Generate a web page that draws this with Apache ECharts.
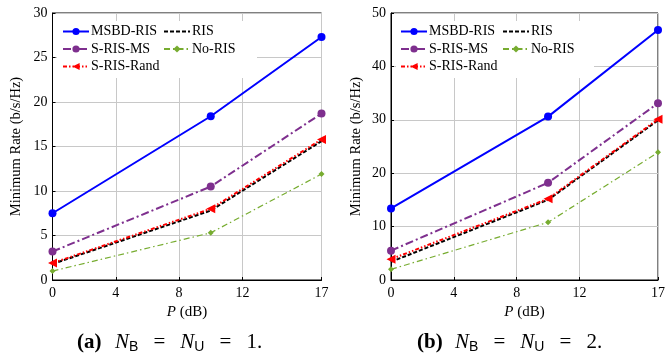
<!DOCTYPE html>
<html><head><meta charset="utf-8">
<script src="https://cdn.jsdelivr.net/npm/echarts@6/dist/echarts.min.js"></script>
<style>html,body{margin:0;padding:0;background:#fff}#c{width:668px;height:362px}</style>
</head><body><div id="c"></div>
<script>
const P = [0, 10, 17];
const xTicks = [0, 4, 8, 12, 17];
const seriesNames = ['MSBD-RIS', 'RIS', 'S-RIS-MS', 'No-RIS', 'S-RIS-Rand'];
// (a) N_B = N_U = 1
const a_MSBD = [7.5, 18.4, 27.3];
const a_RIS = [1.8, 7.8, 15.6];
const a_SRISMS = [3.2, 10.5, 18.7];
const a_NoRIS = [1.0, 5.3, 11.9];
const a_Rand = [1.9, 8.0, 15.8];
// (b) N_B = N_U = 2
const b_MSBD = [13.4, 30.6, 46.8];
const b_RIS = [3.4, 15.0, 29.9];
const b_SRISMS = [5.5, 18.2, 33.1];
const b_NoRIS = [2.0, 10.8, 23.9];
const b_Rand = [3.9, 15.2, 30.1];
const yMaxA = 30, yIntA = 5, yMaxB = 50, yIntB = 10;

const styles = {
  'MSBD-RIS': {color:'#0000ff', width:2, type:'solid', symbol:'circle', size:8},
  'RIS': {color:'#000000', width:2, type:[4,2], symbol:'circle', size:0.1},
  'S-RIS-MS': {color:'#7e2f8e', width:2, type:[8,3,2,3], symbol:'circle', size:8},
  'No-RIS': {color:'#77ac30', width:1.2, type:[6,3,1.5,3], symbol:'diamond', size:6},
  'S-RIS-Rand': {color:'#ff0000', width:2, type:[4,2,1.5,2,1.5,2], symbol:'triangle', size:9}
};
const dataA = {'MSBD-RIS':a_MSBD,'RIS':a_RIS,'S-RIS-MS':a_SRISMS,'No-RIS':a_NoRIS,'S-RIS-Rand':a_Rand};
const dataB = {'MSBD-RIS':b_MSBD,'RIS':b_RIS,'S-RIS-MS':b_SRISMS,'No-RIS':b_NoRIS,'S-RIS-Rand':b_Rand};

function mk(name, vals, idx){
  const s = styles[name];
  return {
    type:'line', name:name, xAxisIndex:idx, yAxisIndex:idx,
    data: P.map((p,i)=>[p, vals[i]]),
    symbol: s.symbol, symbolSize: s.size, symbolRotate: name==='S-RIS-Rand'?90:0,
    showSymbol: true,
    lineStyle:{color:s.color, width:s.width, type:s.type},
    itemStyle:{color:s.color, opacity: name==='RIS'?0:1},
    animation:false, silent:true, z: 3
  };
}
const serif = 'Liberation Serif';
function xAx(idx){
  return {gridIndex:idx, type:'value', min:0, max:17,
    axisLine:{show:true, onZero:false, lineStyle:{color:'#000', width:1}},
    axisTick:{show:true, inside:true, length:3, customValues:xTicks, lineStyle:{color:'#000'}},
    axisLabel:{customValues:xTicks, fontFamily:serif, fontSize:14, color:'#000', margin:6},
    splitLine:{show:true, lineStyle:{color:'#c8c8c8', width:1}},
    name:'{i|P} (dB)', nameLocation:'middle', nameGap:25,
    nameTextStyle:{fontFamily:serif, fontSize:15, color:'#000', rich:{i:{fontFamily:serif, fontStyle:'italic', fontSize:15, color:'#000'}}}
  };
}
function yAx(idx, max, interval){
  return {gridIndex:idx, type:'value', min:0, max:max, interval:interval,
    axisLine:{show:true, lineStyle:{color:'#000', width:1}},
    axisTick:{show:true, inside:true, length:3, lineStyle:{color:'#000'}},
    axisLabel:{fontFamily:serif, fontSize:14, color:'#000', margin:5},
    splitLine:{show:true, lineStyle:{color:'#c8c8c8', width:1}},
    name:'Minimum Rate (b/s/Hz)', nameLocation:'middle', nameGap:idx===0?28.5:27,
    nameTextStyle:{fontFamily:serif, fontSize:14.5, color:'#000'}
  };
}
function legend(left, top, names){
  return {show:true, orient:'vertical', left:left, top:top,
    data:names.map(n=>n==='RIS'?{name:n, itemStyle:{opacity:0}}:n),
    itemWidth:26, itemHeight:9,
    itemGap:3.5, padding:0, selectedMode:false,
    textStyle:{fontFamily:serif, fontSize:14, color:'#000', padding:[0,0,0,-3]}};
}
function capRich(){
  return {
    b:{fontFamily:serif, fontWeight:'bold', fontSize:21, color:'#000', width:38, align:'left'},
    i:{fontFamily:serif, fontStyle:'italic', fontSize:21, color:'#000'},
    e:{fontFamily:serif, fontSize:21, color:'#000', width:42, align:'center'},
    r:{fontFamily:serif, fontSize:21, color:'#000', align:'left'},
    s:{fontFamily:'Liberation Sans', fontSize:14, color:'#000', verticalAlign:'top', padding:[9,0,0,0]}
  };
}
const series = [];
seriesNames.forEach(n=>series.push(mk(n, dataA[n], 0)));
seriesNames.forEach(n=>series.push(mk(n, dataB[n], 1)));

const option = {
  animation:false,
  backgroundColor:'#fff',
  grid:[
    {left:52.5, top:13, width:269, height:267, show:true, borderColor:'#000', borderWidth:1, backgroundColor:'transparent'},
    {left:391, top:13, width:269, height:267, show:true, borderColor:'#000', borderWidth:1, backgroundColor:'transparent'}
  ],
  xAxis:[xAx(0), xAx(1)],
  yAxis:[yAx(0,yMaxA,yIntA), yAx(1,yMaxB,yIntB)],
  legend:[
    legend(62, 24.5, ['MSBD-RIS','S-RIS-MS','S-RIS-Rand']),
    legend(163, 24.5, ['RIS','No-RIS']),
    legend(400, 24.5, ['MSBD-RIS','S-RIS-MS','S-RIS-Rand']),
    legend(502, 24.5, ['RIS','No-RIS'])
  ],
  graphic:[
    {type:'rect', shape:{x:57, y:21, width:200, height:57}, style:{fill:'#fff'}, z:1},
    {type:'rect', shape:{x:396, y:21, width:198, height:57}, style:{fill:'#fff'}, z:1},
    {type:'text', left:77, top:332, z:5, style:{text:'{b|(a)}{i|N}{s|B}{e|=}{i|N}{s|U}{e|=}{r|1.}', rich:capRich()}},
    {type:'text', left:417, top:332, z:5, style:{text:'{b|(b)}{i|N}{s|B}{e|=}{i|N}{s|U}{e|=}{r|2.}', rich:capRich()}}
  ],
  series: series
};
const chart = echarts.init(document.getElementById('c'), null, {renderer:'canvas'});
chart.setOption(option);
</script></body></html>
